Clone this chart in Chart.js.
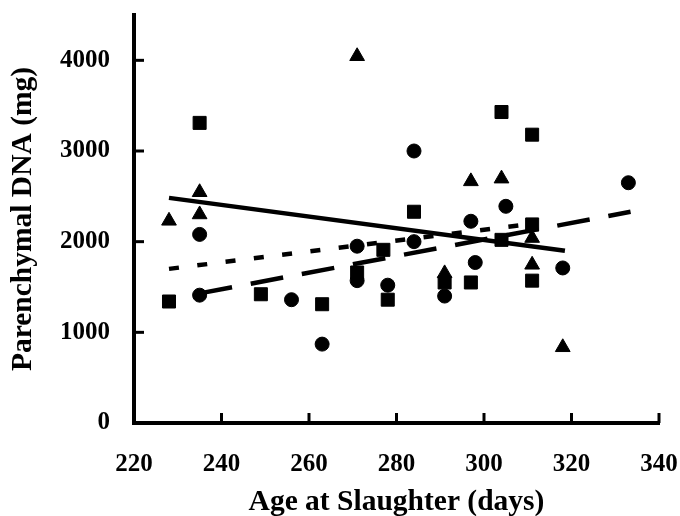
<!DOCTYPE html>
<html>
<head>
<meta charset="utf-8">
<script src="https://cdn.jsdelivr.net/npm/chart.js@4.4.0/dist/chart.umd.min.js"></script>
<style>
  html, body { margin: 0; padding: 0; background: #fff; }
  #wrap { width: 680px; height: 516px; }
</style>
</head>
<body>
<div id="wrap"><canvas id="chart" width="680" height="516"></canvas></div>
<script>
// pontos
const circleX = [235, 235, 256, 263, 271, 271, 278, 284, 284, 291, 297, 298, 305, 318, 333];
const circleY = [2080, 1410, 1360, 870, 1950, 1570, 1520, 3000, 2000, 1400, 2225, 1770, 2390, 1710, 2650];

const squareX = [228, 235, 249, 263, 271, 277, 278, 284, 291, 297, 304, 304, 311, 311, 311];
const squareY = [1340, 3310, 1420, 1310, 1660, 1910, 1360, 2330, 1550, 1550, 3430, 2020, 3180, 2190, 1570];

const triangleX = [228, 235, 235, 271, 291, 297, 304, 311, 311, 318];
const triangleY = [2230, 2545, 2300, 4045, 1650, 2665, 2695, 2040, 1745, 835];

// retas de regressao (extremos)
const solidLineX = [228, 318.5];
const solidLineY = [2483, 1900];
const shortDashX = [228, 311];
const shortDashY = [1700, 2198];
const longDashX = [235, 333.5];
const longDashY = [1430, 2330];

const xTicks = [220, 240, 260, 280, 300, 320, 340];
const yTicks = [0, 1000, 2000, 3000, 4000];

function pts(xs, ys) {
    return xs.map((x, i) => ({ x: x, y: ys[i] }));
}

Chart.defaults.font.family = "'Liberation Serif', 'Times New Roman', serif";
Chart.defaults.color = '#000';

// tracinhos para dentro do grafico
const innerTicks = {
    id: 'innerTicks',
    afterDraw(chart) {
        const ctx = chart.ctx;
        const xs = chart.scales.x, ys = chart.scales.y;
        const area = chart.chartArea;
        ctx.save();
        ctx.strokeStyle = '#000';
        ctx.lineWidth = 3;
        xTicks.slice(1).forEach(v => {
            const px = xs.getPixelForValue(v);
            ctx.beginPath();
            ctx.moveTo(px, area.bottom);
            ctx.lineTo(px, area.bottom - 10);
            ctx.stroke();
        });
        yTicks.slice(1).forEach(v => {
            const py = ys.getPixelForValue(v);
            ctx.beginPath();
            ctx.moveTo(area.left, py);
            ctx.lineTo(area.left + 10, py);
            ctx.stroke();
        });
        ctx.restore();
    }
};

const markerBase = { type: 'scatter', backgroundColor: '#000', borderColor: '#000', borderWidth: 1, showLine: false };
const lineBase = { type: 'scatter', showLine: true, borderColor: '#000', borderWidth: 4.5, pointRadius: 0, fill: false };

const ctx = document.getElementById('chart').getContext('2d');
const chart = new Chart(ctx, {
    type: 'scatter',
    data: {
        datasets: [
            Object.assign({}, markerBase, { label: 'circle', data: pts(circleX, circleY), pointStyle: 'circle', pointRadius: 7 }),
            Object.assign({}, markerBase, { label: 'square', data: pts(squareX, squareY), pointStyle: 'rect', pointRadius: 9.2 }),
            Object.assign({}, markerBase, { label: 'triangle', data: pts(triangleX, triangleY), pointStyle: 'triangle', pointRadius: 8.5 }),
            Object.assign({}, lineBase, { label: 'fit triangle', data: pts(solidLineX, solidLineY) }),
            Object.assign({}, lineBase, { label: 'fit square', data: pts(shortDashX, shortDashY), borderDash: [10, 18.5] }),
            Object.assign({}, lineBase, { label: 'fit circle', data: pts(longDashX, longDashY), borderDash: [33, 19] })
        ]
    },
    options: {
        responsive: false,
        animation: false,
        events: [],
        layout: { autoPadding: false, padding: { top: 15, right: 21, left: 0, bottom: 0 } },
        plugins: {
            legend: { display: false },
            tooltip: { enabled: false }
        },
        scales: {
            x: {
                type: 'linear',
                min: 220,
                max: 340,
                afterBuildTicks: s => { s.ticks = xTicks.map(v => ({ value: v })); },
                afterFit: s => { s.height = 93; s.paddingLeft = 0; s.paddingRight = 0; },
                grid: { display: false, drawTicks: false },
                border: { display: true, color: '#000', width: 4 },
                ticks: { font: { size: 25, weight: 'bold' }, padding: 27, color: '#000', maxRotation: 0, callback: v => String(v) },
                title: {
                    display: true,
                    text: 'Age at Slaughter (days)',
                    font: { size: 29.5, weight: 'bold', lineHeight: 1 },
                    padding: { top: 0, bottom: -1.5 },
                    color: '#000'
                }
            },
            y: {
                type: 'linear',
                min: 0,
                max: 4500,
                afterBuildTicks: s => { s.ticks = yTicks.map(v => ({ value: v })); },
                afterFit: s => { s.width = 134; s.paddingTop = 0; s.paddingBottom = 0; },
                grid: { display: false, drawTicks: false },
                border: { display: true, color: '#000', width: 4 },
                ticks: { font: { size: 25, weight: 'bold' }, padding: 24, color: '#000', callback: v => String(v) },
                title: {
                    display: true,
                    text: 'Parenchymal DNA (mg)',
                    font: { size: 29.5, weight: 'bold', lineHeight: 1 },
                    padding: { top: 9, bottom: 0 },
                    color: '#000'
                }
            }
        }
    },
    plugins: [innerTicks]
});
</script>
</body>
</html>
